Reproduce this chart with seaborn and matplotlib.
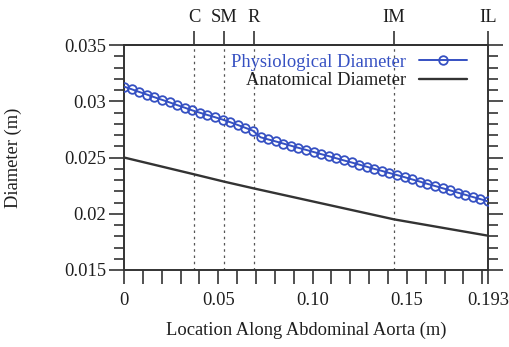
import matplotlib
matplotlib.use("Agg")
import matplotlib.pyplot as plt
from matplotlib.ticker import MultipleLocator, FixedLocator
import numpy as np
import pandas as pd
import seaborn as sns

# Sample locations along the abdominal aorta (m)
location = [0.0, 0.00402, 0.00804, 0.01206, 0.01608, 0.02010, 0.02413, 0.02815,
            0.03217, 0.03619, 0.04021, 0.04423, 0.04825, 0.05227, 0.05629, 0.06031,
            0.06433, 0.06835, 0.07238, 0.07640, 0.08042, 0.08444, 0.08846, 0.09248,
            0.09650, 0.10052, 0.10454, 0.10856, 0.11258, 0.11660, 0.12063, 0.12465,
            0.12867, 0.13269, 0.13671, 0.14073, 0.14475, 0.14877, 0.15279, 0.15681,
            0.16083, 0.16485, 0.16888, 0.17290, 0.17692, 0.18094, 0.18496, 0.18898,
            0.19300]

physiological = [0.03130, 0.03107, 0.03083, 0.03060, 0.03036, 0.03013, 0.02990, 0.02966,
                 0.02943, 0.02919, 0.02898, 0.02878, 0.02858, 0.02837, 0.02814, 0.02789,
                 0.02764, 0.02738, 0.02680, 0.02661, 0.02643, 0.02624, 0.02605, 0.02586,
                 0.02568, 0.02549, 0.02530, 0.02512, 0.02493, 0.02474, 0.02456, 0.02437,
                 0.02418, 0.02399, 0.02381, 0.02362, 0.02344, 0.02325, 0.02305, 0.02286,
                 0.02266, 0.02247, 0.02227, 0.02208, 0.02188, 0.02169, 0.02149, 0.02130,
                 0.02110]

# Anatomical diameter, linear between branch points
anat_location = [0.0, 0.0373, 0.0532, 0.0689, 0.1432, 0.193]
anatomical = [0.0250, 0.02350, 0.02285, 0.02225, 0.01950, 0.01805]

# Branch locations
branch_names = ["C", "SM", "R", "IM", "IL"]
branch_pos = [0.0373, 0.0532, 0.0689, 0.1432, 0.193]

x_ticks = [0, 0.05, 0.10, 0.15, 0.193]
x_tick_labels = ["0", "0.05", "0.10", "0.15", "0.193"]
y_ticks = [0.015, 0.02, 0.025, 0.03, 0.035]
y_tick_labels = ["0.015", "0.02", "0.025", "0.03", "0.035"]

sns.set_style("ticks")
plt.rcParams["font.family"] = ["Liberation Serif", "DejaVu Serif"]
plt.rcParams["font.size"] = 13.3

BLUE = "#3550c2"
DARK = "#333333"
TEXT = "#1e1e1e"

fig = plt.figure(figsize=(5.09, 3.47), dpi=100)
ax = fig.add_axes([124 / 509, 77 / 347, 364 / 509, 225 / 347])

phys_df = pd.DataFrame({"x": location, "d": physiological})
anat_df = pd.DataFrame({"x": anat_location, "d": anatomical})

for xb in branch_pos[:-1]:
    ax.axvline(xb, color="#555555", lw=0.9, ls=(0, (2.0, 3.0)), zorder=1)

sns.lineplot(data=phys_df, x="x", y="d", ax=ax, color=BLUE, lw=1.4,
             marker="o", markersize=6.2, markerfacecolor="none",
             markeredgecolor=BLUE, markeredgewidth=1.3,
             label="Physiological Diameter", zorder=3)
sns.lineplot(data=anat_df, x="x", y="d", ax=ax, color=DARK, lw=1.7,
             label="Anatomical Diameter", zorder=2)

ax.set_xlim(0, 0.193)
ax.set_ylim(0.015, 0.035)

ax.xaxis.set_major_locator(FixedLocator(x_ticks))
ax.set_xticklabels(x_tick_labels)
ax.xaxis.set_minor_locator(FixedLocator([i / 100 for i in range(1, 20)]))
ax.yaxis.set_major_locator(FixedLocator(y_ticks))
ax.set_yticklabels(y_tick_labels)
ax.yaxis.set_minor_locator(MultipleLocator(0.001))

ax.tick_params(axis="x", which="both", direction="out", length=10, width=1.2,
               color=DARK, pad=6, labelcolor=TEXT)
ax.tick_params(axis="y", which="major", direction="out", length=11, width=1.2,
               color=DARK, pad=2, labelcolor=TEXT, right=True)
ax.tick_params(axis="y", which="minor", direction="out", length=7, width=1.2,
               color=DARK, right=True)

for s in ax.spines.values():
    s.set_color(DARK)
    s.set_linewidth(1.4)

top = ax.secondary_xaxis("top")
top.set_xticks(branch_pos)
top.set_xticklabels(branch_names)
top.tick_params(direction="out", length=10, width=1.2, color=DARK, pad=4,
                labelcolor=TEXT)
top.spines["top"].set_color(DARK)
top.spines["top"].set_linewidth(1.4)

ax.set_xlabel("Location Along Abdominal Aorta (m)", color=TEXT, labelpad=9)
ax.set_ylabel("Diameter (m)", color=TEXT, labelpad=30)

leg = ax.legend(loc="upper right", bbox_to_anchor=(0.942, 0.962), frameon=False,
                markerfirst=False, handlelength=2.6, handletextpad=0.7,
                borderpad=0, borderaxespad=0, labelspacing=0.08,
                labelcolor=[BLUE, TEXT])

fig.savefig("out.png", dpi=100)
